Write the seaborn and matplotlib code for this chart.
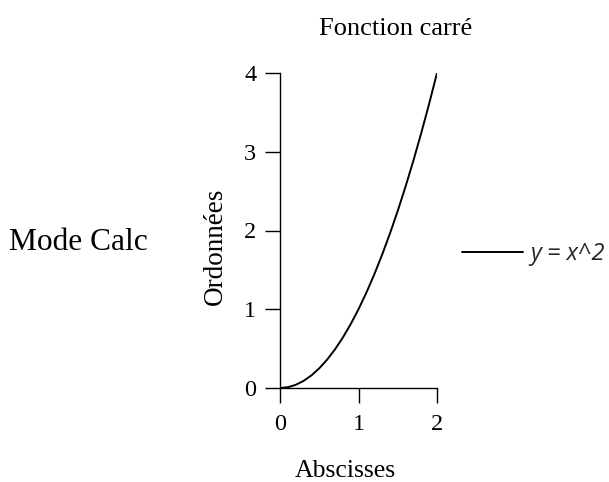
import numpy as np
import pandas as pd
import seaborn as sns
import matplotlib
matplotlib.use("Agg")
import matplotlib.pyplot as plt

# Sample points of the square function on [0, 2]
x_values = [0.0, 0.1, 0.2, 0.3, 0.4, 0.5, 0.6, 0.7, 0.8, 0.9, 1.0,
            1.1, 1.2, 1.3, 1.4, 1.5, 1.6, 1.7, 1.8, 1.9, 2.0]
y_values = [0.0, 0.01, 0.04, 0.09, 0.16, 0.25, 0.36, 0.49, 0.64, 0.81, 1.0,
            1.21, 1.44, 1.69, 1.96, 2.25, 2.56, 2.89, 3.24, 3.61, 4.0]
series_label = "y = x^2"
x_ticks = [0, 1, 2]
y_ticks = [0, 1, 2, 3, 4]

df = pd.DataFrame({"x": x_values, "y": y_values, "serie": series_label})

sns.set_theme(style="ticks")
plt.rcParams["font.family"] = ["Liberation Serif", "DejaVu Serif"]

W, H = 609, 482
fig = plt.figure(figsize=(W / 100, H / 100), dpi=100)
ax_l, ax_r, ax_t, ax_b = 280, 437, 73, 388
ax = fig.add_axes([ax_l / W, 1 - ax_b / H, (ax_r - ax_l) / W, (ax_b - ax_t) / H])

sns.lineplot(data=df, x="x", y="y", hue="serie", palette=["black"],
             linewidth=1.4, ax=ax, legend=False)

ax.set_xlim(0, 2)
ax.set_ylim(0, 4)
ax.set_xticks(x_ticks)
ax.set_yticks(y_ticks)
ax.tick_params(axis="both", labelsize=17.5, length=11, width=1.0, color="black",
               labelcolor="black")
ax.tick_params(axis="x", pad=8)
ax.tick_params(axis="y", pad=6)
for side in ("top", "right"):
    ax.spines[side].set_visible(False)
for side in ("left", "bottom"):
    ax.spines[side].set_color("black")
    ax.spines[side].set_linewidth(1.0)

w_ax, h_ax = ax_r - ax_l, ax_b - ax_t
ax.set_xlabel("Abscisses", fontsize=18.5, color="black")
ax.set_ylabel("Ordonnées", fontsize=19.5, color="black")
ax.xaxis.set_label_coords((345 - ax_l) / w_ax, (ax_b - 471) / h_ax)
ax.yaxis.set_label_coords((215 - ax_l) / w_ax, (ax_b - 246) / h_ax)
ax.xaxis.label.set_verticalalignment("center")
ax.yaxis.label.set_verticalalignment("center")

ax.text((395.5 - ax_l) / w_ax, (ax_b - 29) / h_ax, "Fonction carré",
        transform=ax.transAxes, ha="center", va="center", fontsize=19,
        color="black")

fig.text(9 / W, 1 - 243 / H, "Mode Calc", ha="left", va="center",
         fontsize=22.6, color="black")

handle = plt.Line2D([], [], color="black", linewidth=1.4)
fig.legend([handle], [series_label], loc="center left",
           bbox_to_anchor=(462 / W, 1 - 254 / H), frameon=False,
           borderpad=0, borderaxespad=0, handlelength=2.6, handletextpad=0.3,
           prop={"family": "Open Sans", "style": "italic", "size": 17})

fig.savefig("out.png", dpi=100, facecolor="white")
